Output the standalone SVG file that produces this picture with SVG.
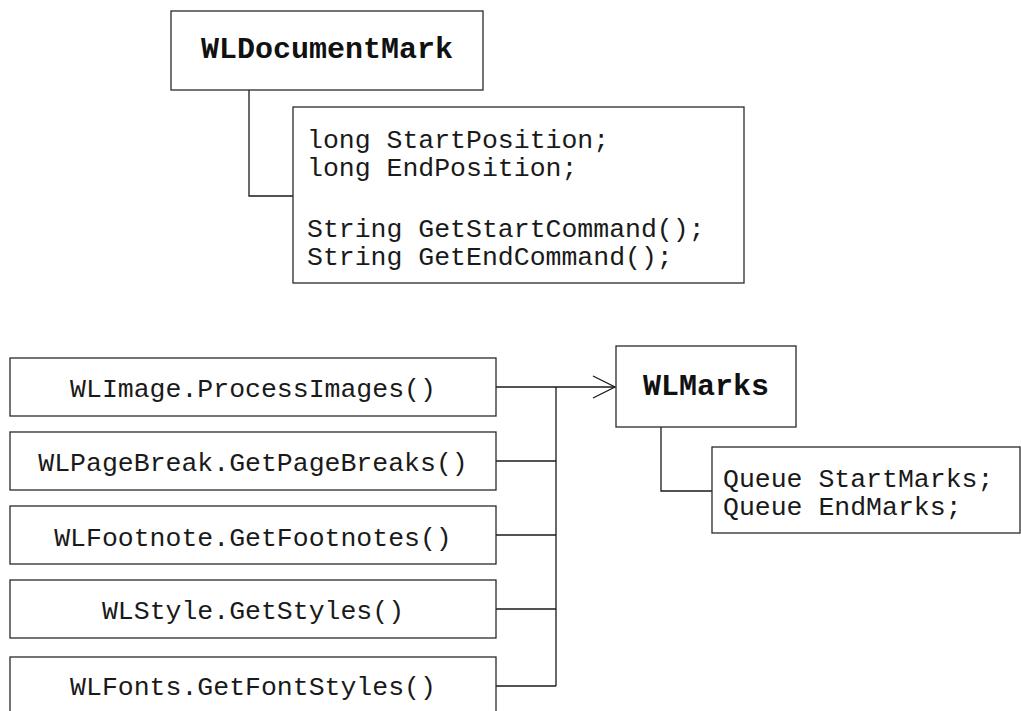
<svg xmlns="http://www.w3.org/2000/svg" width="1021" height="711" viewBox="0 0 1021 711">
  <style>
    .box { fill: #ffffff; stroke: #2a2a2a; stroke-width: 1.3; }
    .wire { fill: none; stroke: #1a1a1a; stroke-width: 1.3; }
    .title { font-family: "Liberation Mono", "Courier New", monospace; font-size: 30px; font-weight: bold; fill: #111; text-anchor: middle; }
    .code { font-family: "Liberation Mono", "Courier New", monospace; font-size: 26.5px; fill: #1a1a1a; }
    .call { font-family: "Liberation Mono", "Courier New", monospace; font-size: 26.5px; fill: #1a1a1a; text-anchor: middle; }
  </style>
  <defs>
    <marker id="open-arrow" markerWidth="26" markerHeight="26" refX="23" refY="12" orient="auto" markerUnits="userSpaceOnUse">
      <path d="M1,1 L23,12 L1,23" fill="none" stroke="#1a1a1a" stroke-width="1.3"/>
    </marker>
  </defs>
  <rect width="1021" height="711" fill="#ffffff"/>

  <!-- connectors -->
  <g id="connectors">
    <polyline class="wire" points="249,90 249,196 293,196"/>
    <polyline class="wire" points="661,427 661,491 712,491"/>
    <line class="wire" x1="496" y1="387" x2="556" y2="387"/>
    <line class="wire" x1="496" y1="461" x2="556" y2="461"/>
    <line class="wire" x1="496" y1="535" x2="556" y2="535"/>
    <line class="wire" x1="496" y1="609" x2="556" y2="609"/>
    <line class="wire" x1="496" y1="686" x2="556" y2="686"/>
    <line class="wire" x1="556" y1="387" x2="556" y2="686"/>
    <line class="wire" x1="556" y1="387" x2="615" y2="387" marker-end="url(#open-arrow)"/>
  </g>

  <!-- WLDocumentMark class -->
  <g id="wldocumentmark">
    <rect class="box" x="171" y="11" width="312" height="79"/>
    <text class="title" x="327" y="58">WLDocumentMark</text>
  </g>
  <g id="wldocumentmark-members">
    <rect class="box" x="293" y="107" width="451" height="176"/>
    <text class="code" x="307" y="148">long StartPosition;</text>
    <text class="code" x="307" y="175.5">long EndPosition;</text>
    <text class="code" x="307" y="237">String GetStartCommand();</text>
    <text class="code" x="307" y="265">String GetEndCommand();</text>
  </g>

  <!-- producers feeding WLMarks -->
  <g id="processimages">
    <rect class="box" x="10" y="358" width="486" height="58"/>
    <text class="call" x="253" y="397">WLImage.ProcessImages()</text>
  </g>
  <g id="getpagebreaks">
    <rect class="box" x="10" y="432" width="486" height="58"/>
    <text class="call" x="253" y="471">WLPageBreak.GetPageBreaks()</text>
  </g>
  <g id="getfootnotes">
    <rect class="box" x="10" y="506" width="486" height="58"/>
    <text class="call" x="253" y="545.5">WLFootnote.GetFootnotes()</text>
  </g>
  <g id="getstyles">
    <rect class="box" x="10" y="580" width="486" height="58"/>
    <text class="call" x="253" y="619">WLStyle.GetStyles()</text>
  </g>
  <g id="getfontstyles">
    <rect class="box" x="10" y="657" width="486" height="58"/>
    <text class="call" x="253" y="695">WLFonts.GetFontStyles()</text>
  </g>

  <!-- WLMarks class -->
  <g id="wlmarks">
    <rect class="box" x="616" y="346" width="180" height="81"/>
    <text class="title" x="706" y="395">WLMarks</text>
  </g>
  <g id="wlmarks-members">
    <rect class="box" x="712" y="447" width="308" height="86"/>
    <text class="code" x="723" y="487">Queue StartMarks;</text>
    <text class="code" x="723" y="515">Queue EndMarks;</text>
  </g>
</svg>
